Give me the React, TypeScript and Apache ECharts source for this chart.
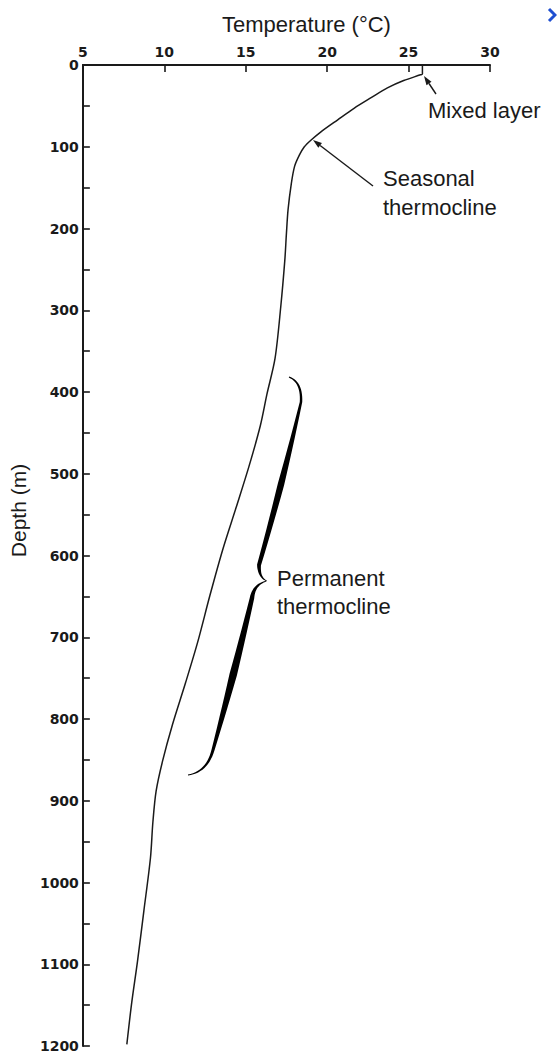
import React, { useEffect, useRef } from "react";
import * as echarts from "echarts";

const depthM = [0, 11, 12, 19, 28, 40, 53, 67, 82, 92, 100, 110, 124, 145, 177, 206, 239, 296, 359, 403, 441, 491, 542, 592, 649, 706, 756, 807, 851, 888, 926, 970, 1034, 1097, 1147, 1198];
const temperatureC = [25.85, 25.85, 25.73, 24.7, 23.7, 22.7, 21.65, 20.65, 19.6, 19.0, 18.6, 18.3, 18.0, 17.8, 17.6, 17.5, 17.4, 17.15, 16.8, 16.3, 15.9, 15.2, 14.4, 13.6, 12.8, 12.05, 11.3, 10.5, 9.9, 9.5, 9.3, 9.15, 8.75, 8.35, 8.0, 7.7];

const tempMin = 5;
const tempMax = 30;
const tempStep = 5;
const depthMin = 0;
const depthMax = 1200;
const depthStep = 100;

const FONT = "Liberation Sans, Arial, Helvetica, sans-serif";
const TICK_FONT = "DejaVu Sans, Liberation Sans, sans-serif";
const INK = "#1a1a1a";

type Seg = { p0: number[]; c: number[]; p1: number[]; w: number[] };

function braceOutline(): number[][] {
  const segs: Seg[] = [
    { p0: [289, 377], c: [302, 382], p1: [301, 402], w: [1.2, 2, 2.5] },
    { p0: [301, 402], c: [282, 485], p1: [259, 565], w: [2.5, 6.5, 4] },
    { p0: [259, 565], c: [259, 578], p1: [267, 581], w: [4, 2, 0.6] },
    { p0: [267, 581], c: [254, 584], p1: [252, 598], w: [0.6, 2.5, 4.5] },
    { p0: [252, 598], c: [234, 675], p1: [213, 750], w: [4.5, 7.5, 3] },
    { p0: [213, 750], c: [207, 772], p1: [188, 775], w: [3, 2, 0.8] },
  ];
  const left: number[][] = [];
  const right: number[][] = [];
  const N = 14;
  segs.forEach((s, si) => {
    for (let i = si === 0 ? 0 : 1; i <= N; i++) {
      const t = i / N;
      const a = (1 - t) * (1 - t), b = 2 * t * (1 - t), c = t * t;
      const x = a * s.p0[0] + b * s.c[0] + c * s.p1[0];
      const y = a * s.p0[1] + b * s.c[1] + c * s.p1[1];
      let dx = 2 * (1 - t) * (s.c[0] - s.p0[0]) + 2 * t * (s.p1[0] - s.c[0]);
      let dy = 2 * (1 - t) * (s.c[1] - s.p0[1]) + 2 * t * (s.p1[1] - s.c[1]);
      const len = Math.hypot(dx, dy) || 1;
      dx /= len; dy /= len;
      const w = t < 0.5 ? s.w[0] + (s.w[1] - s.w[0]) * 2 * t : s.w[1] + (s.w[2] - s.w[1]) * (2 * t - 1);
      const nx = -dy, ny = dx;
      left.push([x + (nx * w) / 2, y + (ny * w) / 2]);
      right.push([x - (nx * w) / 2, y - (ny * w) / 2]);
    }
  });
  return left.concat(right.reverse());
}

function arrow(tail: number[], head: number[]) {
  const dx = head[0] - tail[0], dy = head[1] - tail[1];
  const len = Math.hypot(dx, dy);
  const ux = dx / len, uy = dy / len;
  const hl = 9, hw = 3;
  const bx = head[0] - ux * hl, by = head[1] - uy * hl;
  return [
    {
      type: "line",
      shape: { x1: tail[0], y1: tail[1], x2: bx, y2: by },
      style: { stroke: INK, lineWidth: 1.4 },
      silent: true,
    },
    {
      type: "polygon",
      shape: {
        points: [
          [head[0], head[1]],
          [bx - uy * hw, by + ux * hw],
          [bx + uy * hw, by - ux * hw],
        ],
      },
      style: { fill: INK },
      silent: true,
    },
  ];
}

function label(text: string, x: number, y: number) {
  return {
    type: "text",
    x,
    y,
    style: {
      text,
      fill: INK,
      font: `22px ${FONT}`,
      verticalAlign: "middle",
      align: "left",
    },
    silent: true,
  };
}

export default function App() {
  const ref = useRef<HTMLDivElement>(null);

  useEffect(() => {
    document.body.style.margin = "0";
    const chart = echarts.init(ref.current!, null, { renderer: "svg" });
    const data = depthM.map((d, i) => [temperatureC[i], d]);

    chart.setOption({
      animation: false,
      backgroundColor: "#ffffff",
      grid: { left: 80, top: 65, width: 410, height: 981, containLabel: false },
      xAxis: {
        type: "value",
        position: "top",
        min: tempMin,
        max: tempMax,
        interval: tempStep,
        name: "Temperature (°C)",
        nameLocation: "middle",
        nameGap: 30,
        nameTextStyle: { fontFamily: FONT, fontSize: 22, color: INK, padding: [0, 0, 0, 40] },
        axisLine: { show: true, lineStyle: { color: INK, width: 2 } },
        axisTick: { show: true, inside: true, length: 7, lineStyle: { color: INK, width: 1.6 } },
        axisLabel: { fontFamily: TICK_FONT, fontSize: 14, fontWeight: "bold", color: INK, margin: 6, formatter: (v: number) => String(v) },
        splitLine: { show: false },
      },
      yAxis: {
        type: "value",
        inverse: true,
        min: depthMin,
        max: depthMax,
        interval: depthStep,
        name: "Depth (m)",
        nameLocation: "middle",
        nameGap: 52,
        nameRotate: 90,
        nameTextStyle: { fontFamily: FONT, fontSize: 21, color: INK, padding: [0, 0, 0, 90] },
        axisLine: { show: true, lineStyle: { color: INK, width: 2 } },
        axisTick: { show: true, inside: true, length: 7, lineStyle: { color: INK, width: 1.6 } },
        minorTick: { show: true, splitNumber: 2, length: 7, lineStyle: { color: INK, width: 1.6 } },
        axisLabel: { fontFamily: TICK_FONT, fontSize: 14, fontWeight: "bold", color: INK, margin: 4, formatter: (v: number) => String(v) },
        splitLine: { show: false },
        minorSplitLine: { show: false },
      },
      series: [
        {
          type: "line",
          data,
          showSymbol: false,
          smooth: 0.3,
          lineStyle: { color: INK, width: 1.5 },
          silent: true,
        },
      ],
      graphic: [
        label("Mixed layer", 428, 110),
        label("Seasonal", 383, 178),
        label("thermocline", 383, 207),
        label("Permanent", 277, 578),
        label("thermocline", 277, 606),
        ...arrow([436, 94], [424, 76]),
        ...arrow([373, 186], [313, 140]),
        {
          type: "polygon",
          shape: { points: braceOutline(), smooth: 0 },
          style: { fill: "#000" },
          silent: true,
        },
        {
          type: "polyline",
          shape: { points: [[549, 9], [555, 15], [549, 21]] },
          style: { stroke: "#1f4fd1", lineWidth: 3, fill: "none" },
          silent: true,
        },
      ],
    });

    return () => chart.dispose();
  }, []);

  return <div ref={ref} style={{ width: 557, height: 1055 }} />;
}
